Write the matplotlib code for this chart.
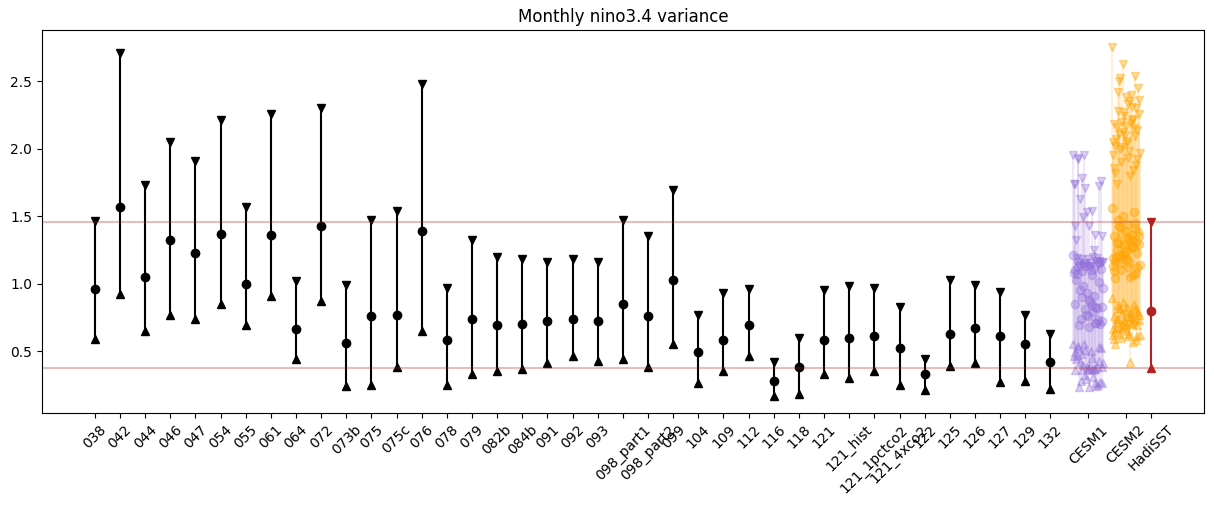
import numpy as np
import matplotlib
matplotlib.use("Agg")
import matplotlib.pyplot as plt

# ── model runs: mean, min and max of monthly nino3.4 variance ────────────────
models = ["038", "042", "044", "046", "047", "054", "055", "061", "064", "072",
          "073b", "075", "075c", "076", "078", "079", "082b", "084b", "091", "092",
          "093", "098_part1", "098_part2", "099", "104", "109", "112", "116", "118",
          "121", "121_hist", "121_1pctco2", "121_4xco2", "122", "125", "126", "127",
          "129", "132"]
var_mean = [0.96, 1.57, 1.05, 1.32, 1.23, 1.37, 1.00, 1.36, 0.66, 1.43,
            0.56, 0.76, 0.77, 1.39, 0.58, 0.74, 0.69, 0.70, 0.72, 0.74,
            0.72, 0.85, 0.76, 1.03, 0.49, 0.58, 0.69, 0.28, 0.38,
            0.58, 0.60, 0.61, 0.52, 0.33, 0.63, 0.67, 0.61, 0.55, 0.42]
var_max = [1.46, 2.71, 1.73, 2.05, 1.91, 2.21, 1.57, 2.26, 1.02, 2.30,
           0.99, 1.47, 1.54, 2.48, 0.97, 1.32, 1.20, 1.18, 1.16, 1.18,
           1.16, 1.47, 1.35, 1.69, 0.77, 0.93, 0.96, 0.42, 0.60,
           0.95, 0.98, 0.97, 0.83, 0.44, 1.03, 0.99, 0.94, 0.77, 0.63]
var_min = [0.59, 0.92, 0.65, 0.77, 0.74, 0.85, 0.69, 0.91, 0.44, 0.87,
           0.24, 0.25, 0.38, 0.65, 0.25, 0.33, 0.35, 0.37, 0.41, 0.46,
           0.43, 0.44, 0.38, 0.55, 0.26, 0.35, 0.46, 0.17, 0.18,
           0.33, 0.30, 0.35, 0.25, 0.21, 0.39, 0.41, 0.27, 0.28, 0.22]

# ── CESM1 large ensemble members ─────────────────────────────────────────────
cesm1_mean = [1.21, 1.10, 1.12, 0.83, 1.09, 0.70, 0.93, 1.08, 0.84, 1.17,
              0.71, 0.98, 1.11, 0.76, 0.85, 1.06, 0.69, 0.82, 1.15, 0.72,
              0.88, 1.10, 0.79, 0.95, 0.73, 1.13, 0.83, 0.68, 1.03, 0.91,
              0.74, 1.16, 0.81, 0.97, 0.86, 1.07, 0.71, 0.90, 1.01, 0.77]
cesm1_max = [1.95, 1.15, 1.93, 1.36, 1.78, 1.15, 1.53, 1.74, 1.13, 1.92,
             1.17, 1.49, 1.76, 1.18, 1.43, 1.54, 1.13, 1.19, 1.95, 1.16,
             1.43, 1.74, 1.20, 1.63, 1.14, 1.71, 1.35, 1.12, 1.32, 1.25,
             1.18, 1.72, 1.15, 1.16, 1.12, 1.19, 1.10, 1.14, 1.17, 1.13]
cesm1_min = [0.55, 0.50, 0.52, 0.37, 0.48, 0.27, 0.38, 0.46, 0.36, 0.54,
             0.24, 0.40, 0.52, 0.37, 0.36, 0.45, 0.23, 0.38, 0.55, 0.26,
             0.37, 0.49, 0.31, 0.42, 0.25, 0.51, 0.38, 0.23, 0.44, 0.37,
             0.28, 0.53, 0.32, 0.41, 0.39, 0.47, 0.26, 0.36, 0.43, 0.29]

# ── CESM2 large ensemble members ─────────────────────────────────────────────
cesm2_mean = [1.56, 1.45, 1.33, 1.21, 1.15, 1.04, 1.38, 1.27, 1.12, 1.50,
              1.30, 1.19, 1.08, 1.36, 1.24, 1.42, 1.17, 1.29, 1.06, 1.34,
              1.22, 1.47, 1.13, 1.31, 1.26, 1.39, 1.10, 1.20, 1.35, 1.53,
              1.16, 1.28, 1.43, 1.09, 1.23, 1.32, 1.18, 1.37, 1.25, 1.14,
              1.41, 1.05, 1.29, 1.21, 1.35, 1.12, 1.27, 1.44, 1.19, 1.31]
cesm2_max = [2.75, 2.54, 2.35, 2.10, 2.00, 1.82, 2.45, 2.22, 1.93, 2.63,
             2.28, 2.05, 1.88, 2.40, 2.17, 2.52, 2.02, 2.26, 1.84, 2.33,
             2.12, 2.42, 1.95, 2.30, 2.19, 2.38, 1.90, 2.07, 2.36, 2.15,
             1.98, 2.24, 2.50, 1.86, 2.14, 2.31, 2.04, 2.20, 2.16, 1.97,
             2.09, 1.80, 2.27, 2.11, 2.18, 1.92, 2.21, 2.06, 2.01, 1.74]
cesm2_min = [0.89, 0.82, 0.75, 0.68, 0.63, 0.55, 0.79, 0.72, 0.61, 0.86,
             0.74, 0.66, 0.58, 0.78, 0.70, 0.81, 0.64, 0.73, 0.57, 0.76,
             0.69, 0.84, 0.62, 0.74, 0.71, 0.80, 0.60, 0.67, 0.77, 0.85,
             0.63, 0.72, 0.82, 0.59, 0.69, 0.75, 0.65, 0.78, 0.71, 0.62,
             0.80, 0.42, 0.73, 0.68, 0.76, 0.61, 0.70, 0.83, 0.66, 0.74]

# ── observations ─────────────────────────────────────────────────────────────
had_mean, had_min, had_max = 0.80, 0.375, 1.458


def minmax_bar(ax, x, mean, lo, hi, color, alpha=1.0, line_alpha=None):
    if line_alpha is None:
        line_alpha = alpha
    ax.vlines(x, lo, hi, color=color, lw=1.5, alpha=line_alpha)
    ax.plot(x, hi, 'v', color=color, ms=6, alpha=alpha, ls='none')
    ax.plot(x, lo, '^', color=color, ms=6, alpha=alpha, ls='none')
    ax.plot(x, mean, 'o', color=color, ms=6, alpha=alpha, ls='none')


fig = plt.figure(figsize=(12.14, 5.08), dpi=100)
ax = fig.add_axes([0.0346, 0.187, 0.957, 0.754])

x_mod = np.arange(len(models))
minmax_bar(ax, x_mod, np.array(var_mean), np.array(var_min), np.array(var_max), 'k')

x_c1 = len(models) + 0.5
x_c2 = len(models) + 2
x_had = len(models) + 3

n1 = len(cesm1_mean)
jit1 = x_c1 + np.linspace(-0.6, 0.6, n1)[np.argsort(np.arange(n1) * 7 % n1)]
for i in range(n1):
    minmax_bar(ax, jit1[i], cesm1_mean[i], cesm1_min[i], cesm1_max[i],
               'mediumpurple', alpha=0.35, line_alpha=0.15)

n2 = len(cesm2_mean)
jit2 = x_c2 + np.linspace(-0.55, 0.55, n2)[np.argsort(np.arange(n2) * 11 % n2)]
for i in range(n2):
    minmax_bar(ax, jit2[i], cesm2_mean[i], cesm2_min[i], cesm2_max[i],
               'orange', alpha=0.4, line_alpha=0.15)

minmax_bar(ax, x_had, had_mean, had_min, had_max, 'firebrick')

ax.axhline(had_max, color='firebrick', alpha=0.3, lw=1.5)
ax.axhline(had_min, color='firebrick', alpha=0.3, lw=1.5)

ax.set_xticks(list(x_mod) + [x_c1, x_c2, x_had])
ax.set_xticklabels(models + ["CESM1", "CESM2", "HadiSST"], rotation=45)
ax.set_title("Monthly nino3.4 variance")

plt.savefig("out.png", dpi=100)
plt.close()
